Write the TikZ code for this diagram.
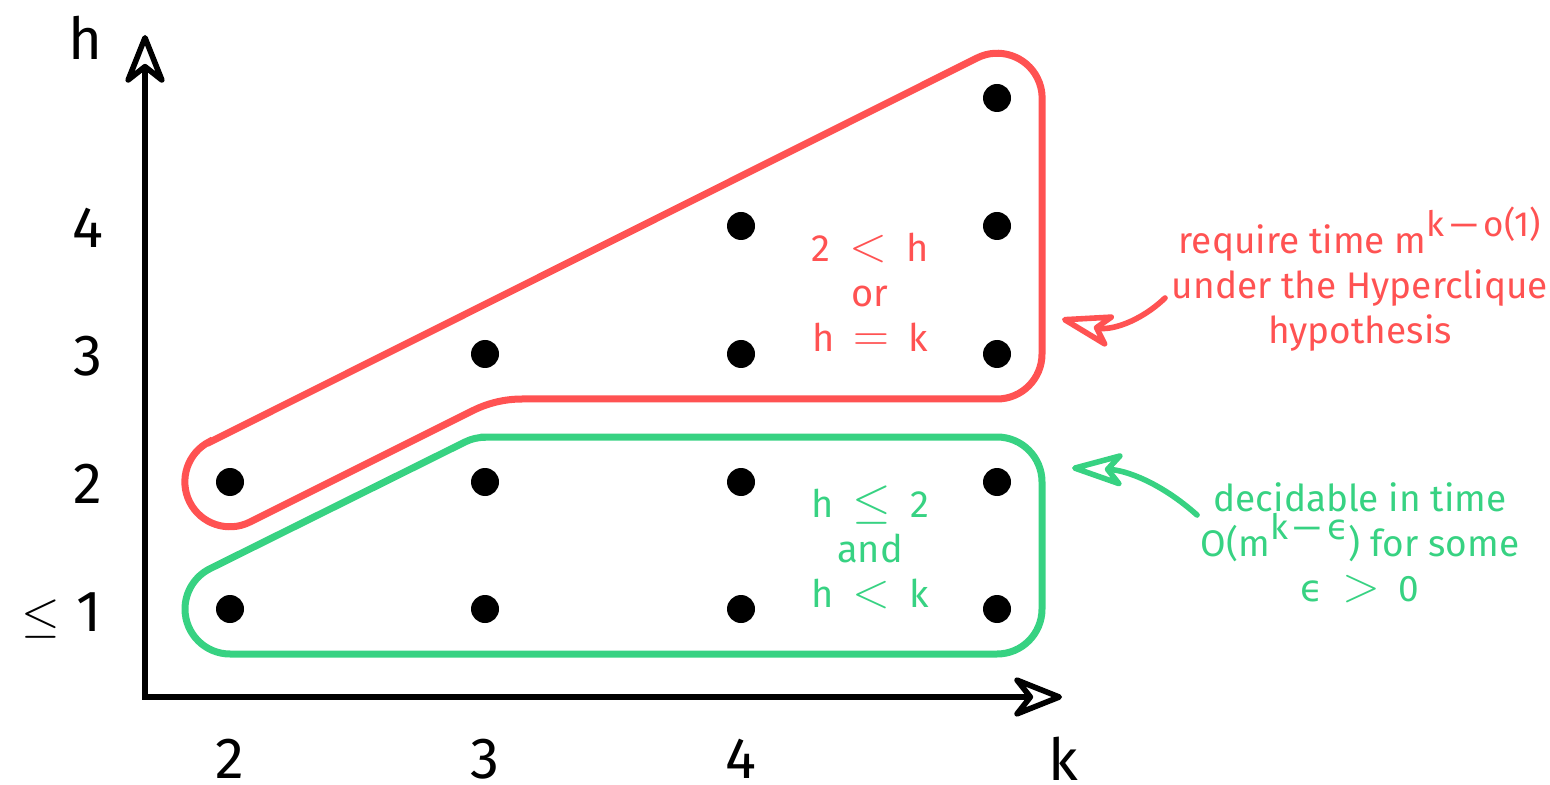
\documentclass[tikz,border=0pt]{standalone}
\usepackage{fontspec}
\setmainfont{Fira Sans}
\newfontfamily\dvs{DejaVu Sans}
\usetikzlibrary{arrows.meta}
\definecolor{myred}{HTML}{FF5252}
\definecolor{mygreen}{HTML}{37D282}
\newcommand\supr[1]{\raisebox{8.5pt}{\fontsize{17.5}{17.5}\selectfont #1}}
\newcommand\rel[1]{{\fontsize{23}{23}\selectfont$#1$}}
\tikzset{
  dot/.style={circle,fill=black,inner sep=0pt,minimum size=14pt},
  axis/.style={line width=2.8pt,{Stealth[open,length=29pt,width=23pt,inset=9pt,round]}-{Stealth[open,length=29pt,width=23pt,inset=9pt,round]}},
  region/.style={line width=3.5pt},
  pointer/.style={line width=2.8pt,line cap=round,-{Stealth[open,length=31pt,width=19pt,inset=8pt,round]}},
  axlab/.style={font=\fontsize{29}{29}\selectfont,anchor=base,inner sep=0pt},
  midlab/.style={font=\fontsize{19}{22.5}\selectfont,align=center,inner sep=0pt},
  sidelab/.style={font=\fontsize{18.5}{22.5}\selectfont,align=center,inner sep=0pt},
}
\begin{document}
\begin{tikzpicture}[x=0.5pt,y=-0.5pt]
\useasboundingbox (0,0) rectangle (1550,785);
% axes
\coordinate (O) at (145,697);
\coordinate (ytop) at (145,35);
\coordinate (xend) at (1062,697);
\draw[axis] (ytop) -- (O) -- (xend);
% axis labels
\node[axlab] (lh) at (85,60) {h};
\node[axlab] (l4) at (88,248) {4};
\node[axlab] (l3) at (88,376) {3};
\node[axlab] (l2) at (88,503) {2};
\node[axlab,anchor=base east] (l1) at (102,631) {{\fontsize{34}{34}\selectfont$\leq$}\;1};
\node[axlab] (k2) at (230,778) {2};
\node[axlab] (k3) at (485,778) {3};
\node[axlab] (k4) at (741,778) {4};
\node[axlab] (lk) at (1063,780) {k};
% regions
\draw[region,myred] (210,442) -- (977,58)
  arc[start angle=-116.6,end angle=0,radius=45] -- (1042,354)
  arc[start angle=0,end angle=90,radius=45] -- (522,399)
  arc[start angle=-90,end angle=-116.6,radius=110] -- (250,522)
  arc[start angle=63.4,end angle=243.4,radius=45] -- cycle;
\draw[region,mygreen] (485,437) -- (997,437)
  arc[start angle=-90,end angle=0,radius=45] -- (1042,609)
  arc[start angle=0,end angle=90,radius=45] -- (230,654)
  arc[start angle=90,end angle=243.5,radius=45] -- (465,442)
  arc[start angle=243.5,end angle=270,radius=45] -- cycle;
% dots
\node[dot] (p21) at (230,609) {};
\node[dot] (p31) at (485,609) {};
\node[dot] (p41) at (741,609) {};
\node[dot] (p51) at (997,609) {};
\node[dot] (p22) at (230,482) {};
\node[dot] (p32) at (485,482) {};
\node[dot] (p42) at (741,482) {};
\node[dot] (p52) at (997,482) {};
\node[dot] (p33) at (485,354) {};
\node[dot] (p43) at (741,354) {};
\node[dot] (p53) at (997,354) {};
\node[dot] (p44) at (741,226) {};
\node[dot] (p54) at (997,226) {};
\node[dot] (p55) at (997,98) {};
% region labels
\node[midlab,myred] (rlab) at (870,292) {2\enspace\rel{<}\enspace h\\or\\h\enspace\rel{=}\enspace k};
\node[midlab,mygreen] (glab) at (870,547) {h\enspace\rel{\leq}\enspace 2\\and\\h\enspace\rel{<}\enspace k};
% side texts
\node[sidelab,myred] (rtext) at (1360,279) {require time m\supr{k\,—\,o(1)}\\under the Hyperclique\\hypothesis};
\node[sidelab,mygreen] (gtext) at (1360,543) {decidable in time\\O(m\supr{k\,—\,{\dvs ϵ}}) for some\\{\dvs ϵ}\enspace\rel{>}\enspace 0};
% pointers
\coordinate (ra0) at (1165,298);
\coordinate (ra1) at (1062,319);
\draw[pointer,myred] (ra0) .. controls (1140,322) and (1110,331) .. (ra1);
\coordinate (ga0) at (1197,515);
\coordinate (ga1) at (1072,468);
\draw[pointer,mygreen] (ga0) .. controls (1160,482) and (1125,470) .. (ga1);
\end{tikzpicture}
\end{document}
